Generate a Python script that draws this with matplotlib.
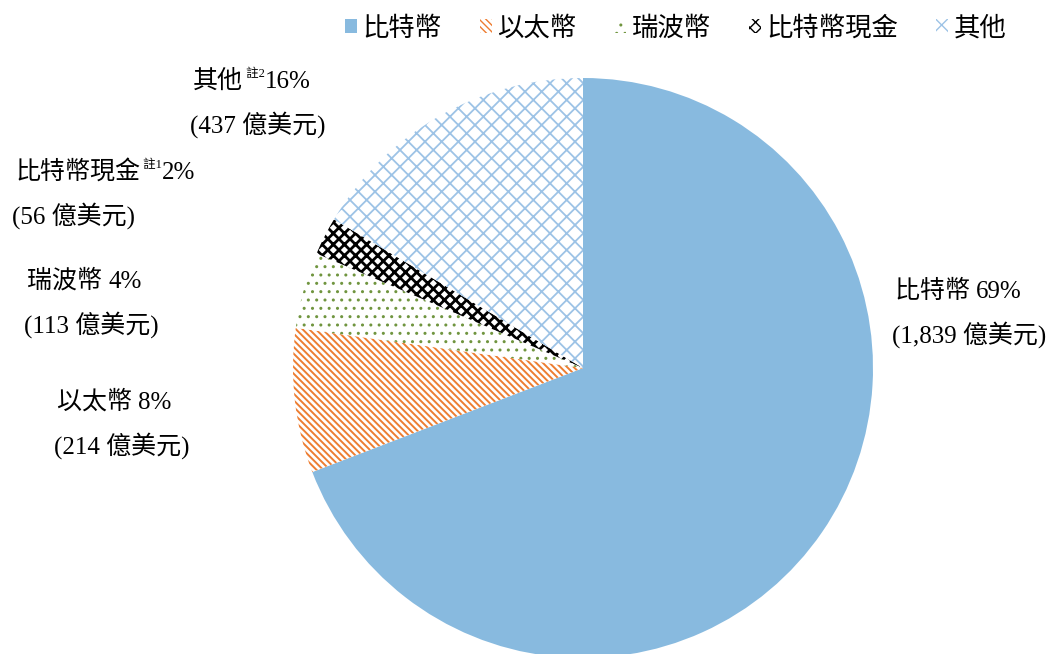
import matplotlib.pyplot as plt

# data
names = ['比特幣', '以太幣', '瑞波幣', '比特幣現金', '其他']
values = [1839, 214, 113, 56, 437]  # 億美元
notes = ['', '', '', '註1', '註2']
colors = ['#88BADF', '#ED7D31', '#70953F', '#000000', '#9DC3E6']
hatches = ['', '\\\\\\\\\\', '..', 'xxx', 'xx']
hatch_lw = [0, 1.4, 1.0, 2.0, 1.3]

CJK = ['Noto Sans CJK TC', 'DejaVu Sans']
SERIF = ['Liberation Serif', 'Noto Sans CJK TC']

fig = plt.figure(figsize=(10.56, 6.54), dpi=100)
ax = fig.add_axes([0, 0, 1, 1])

wedges, _ = ax.pie(values, startangle=90, counterclock=False,
                   center=(583, 286), radius=290, frame=True)
for w, c, h, lw in zip(wedges, colors, hatches, hatch_lw):
    w.set_linewidth(0)
    w.set_edgecolor(c)
    if h:
        w.set_facecolor('white')
        w.set_hatch(h)
        w.set_hatch_linewidth(lw)
    else:
        w.set_facecolor(c)
ax.set_xlim(0, 1056)
ax.set_ylim(0, 654)
ax.set_aspect('equal')
ax.axis('off')

total = sum(values)
pcts = [round(v / total * 100) for v in values]

# label anchors (left x, baseline y of first line) per slice, in pixel space
label_pos = [(895, 356), (57, 245), (27, 366), (15, 475), (193, 566)]
line_gap = 45
fs = 18

for i, (x, y) in enumerate(label_pos):
    first = ax.text(x, y, names[i] + ('' if notes[i] else ' '), fontsize=fs,
                    family=SERIF, ha='left', va='baseline')
    if notes[i]:
        sup = ax.annotate(' ' + notes[i], xy=(1, 0.55), xycoords=first, fontsize=9,
                          family=SERIF, ha='left', va='bottom')
        ax.annotate(f'{pcts[i]}%', xy=(1, 0), xycoords=(sup, first),
                    fontsize=fs, family=SERIF, ha='left', va='bottom')
    else:
        ax.annotate(f'{pcts[i]}%', xy=(1, 0), xycoords=first,
                    fontsize=fs, family=SERIF, ha='left', va='bottom')
    ax.text(x - 3, y - line_gap, f'({values[i]:,} 億美元)', fontsize=fs,
            family=SERIF, ha='left', va='baseline')

leg = ax.legend(wedges, names, loc='center', bbox_to_anchor=(0.64, 0.957),
                ncol=5, frameon=False, prop={'family': CJK, 'size': 19},
                handlelength=0.45, handleheight=0.45, handletextpad=0.2,
                columnspacing=1.45)

fig.savefig('out.png', dpi=100)
